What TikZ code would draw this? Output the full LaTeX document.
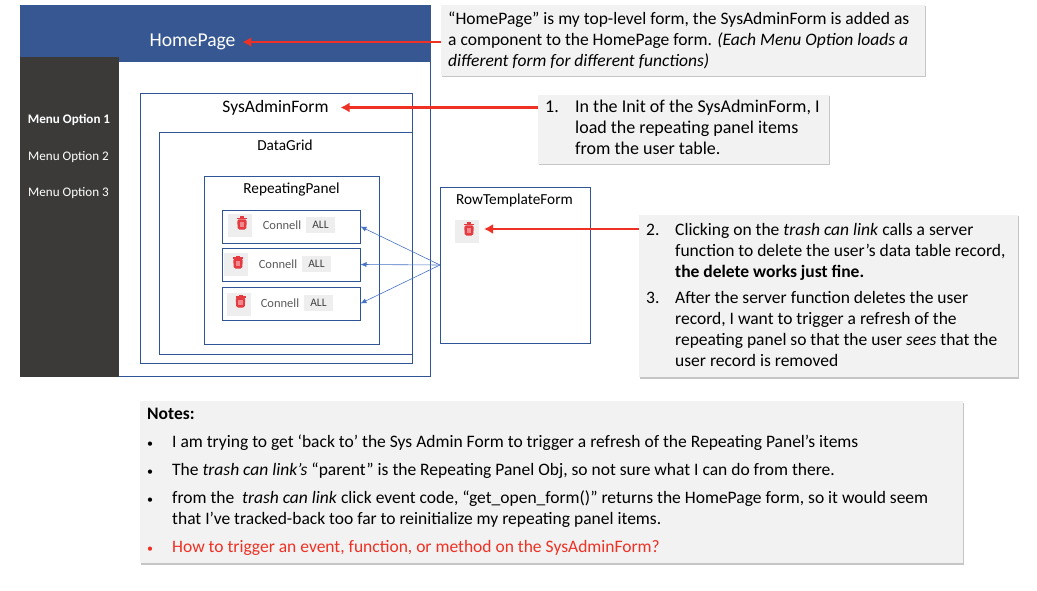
\documentclass[tikz,border=0pt]{standalone}
\usepackage{fontspec}
\setmainfont{Carlito}
\usepackage{array}
\usetikzlibrary{arrows.meta,positioning,shadows,calc}
\definecolor{headColor}{HTML}{365791}
\definecolor{sideColor}{HTML}{3B3A39}
\definecolor{frameColor}{HTML}{2F5597}
\definecolor{linkColor}{HTML}{4472C4}
\definecolor{redColor}{HTML}{EE3124}
\definecolor{noteColor}{HTML}{F2F2F2}
\definecolor{chipColor}{HTML}{EEEEEE}
\definecolor{trashColor}{HTML}{E53A40}
\newcommand{\smallbullet}{{\fontsize{12}{21}\selectfont •}}
\tikzset{
	frame/.style={draw=frameColor, line width=0.9pt, anchor=north west, inner sep=0, outer sep=0},
	note/.style={fill=noteColor, anchor=north west, inner sep=0, outer sep=0, drop shadow={shadow xshift=1.5pt, shadow yshift=-1.5pt, fill=black!45}},
	notetext/.style={anchor=west, inner sep=0, font=\fontsize{17.5}{21}\selectfont},
	redarrow/.style={draw=redColor, line width=2.2pt, -{Latex[length=9pt,width=10pt]}},
	linkarrow/.style={draw=linkColor, line width=0.6pt, -{Latex[length=6pt,width=5pt]}},
	chip/.style={fill=chipColor, anchor=north west, inner sep=0, outer sep=0, text=black!75, font=\fontsize{11.5}{13}\selectfont, minimum width=29pt, minimum height=16pt},
	iconbg/.style={fill=chipColor, anchor=north west, inner sep=0, outer sep=0, minimum width=24pt, minimum height=23pt},
	uname/.style={text=black!65, inner sep=0, font=\fontsize{12.5}{14}\selectfont},
	menu/.style={text=white, inner sep=0, font=\fontsize{13.1}{15}\selectfont},
	title/.style={inner sep=0, font=\fontsize{15.3}{18}\selectfont},
	trash/.pic={
		\fill[trashColor] (-5,-6) rectangle (5,-4.5);
		\fill[trashColor] (-2,-7.5) rectangle (2,-6);
		\fill[trashColor, rounded corners=1.5pt] (-4.8,-4.5) -- (4.8,-4.5) -- (4.2,5.5) -- (-4.2,5.5) -- cycle;
		\fill[trashColor!60!white] (-2.4,-2) rectangle (2.4,2.8);
	}
}
\begin{document}
\begin{tikzpicture}[x=1pt,y=-1pt]
	\useasboundingbox (0,0) rectangle (1037,591);
	% forms
	\node[frame, minimum width=410.5pt, minimum height=371.5pt] (home) at (20,5) {};
	\node[fill=headColor, anchor=north west, inner sep=0, outer sep=0, minimum width=410.5pt, minimum height=57pt] (head) at (20,5) {};
	\node[fill=sideColor, anchor=north west, inner sep=0, outer sep=0, minimum width=99pt, minimum height=320pt] (side) at (20,57) {};
	\node[text=white, inner sep=0, outer sep=7pt, font=\fontsize{19.6}{23}\selectfont] (homelabel) at (192.5,42) {HomePage};
	\node[menu] (menu1) at (69,120) {\textbf{Menu Option 1}};
	\node[menu] (menu2) at (68.5,157.5) {Menu Option 2};
	\node[menu] (menu3) at (68.5,193.5) {Menu Option 3};

	\node[frame, minimum width=272.5pt, minimum height=270pt] (sysform) at (140,93) {};
	\node[inner sep=0, outer sep=12pt, font=\fontsize{17.5}{21}\selectfont] (syslabel) at (275.5,107.5) {SysAdminForm};
	\node[frame, minimum width=253.5pt, minimum height=222pt] (grid) at (159,132) {};
	\node[title] (gridlabel) at (285,145.5) {DataGrid};
	\node[frame, minimum width=175.5pt, minimum height=168pt] (panel) at (204,176) {};
	\node[title] (panellabel) at (291.5,189.5) {RepeatingPanel};

	% repeated rows
	\node[frame, minimum width=138.5pt, minimum height=33pt] (row1) at (222,210) {};
	\node[iconbg] (icon1) at (228,214) {};
	\pic at (242,224) {trash};
	\node[uname] (user1) at (282,225) {Connell};
	\node[chip] (all1) at (306,217) {ALL};
	\node[frame, minimum width=138.5pt, minimum height=33pt] (row2) at (222,248) {};
	\node[iconbg] (icon2) at (224,253) {};
	\pic at (238,263) {trash};
	\node[uname] (user2) at (278,264.5) {Connell};
	\node[chip] (all2) at (302,256) {ALL};
	\node[frame, minimum width=138.5pt, minimum height=33pt] (row3) at (222,287) {};
	\node[iconbg] (icon3) at (227,293) {};
	\pic at (240.5,302) {trash};
	\node[uname] (user3) at (280,303) {Connell};
	\node[chip] (all3) at (304,295) {ALL};

	\node[frame, minimum width=150pt, minimum height=156pt] (rowform) at (440,187) {};
	\node[title] (rowlabel) at (514.5,200.5) {RowTemplateForm};
	\node[iconbg] (icon0) at (455,220) {};
	\pic at (469,230) {trash};

	% notes
	\node[note, minimum width=484pt, minimum height=71pt] (notehome) at (440.5,5) {};
	\node[notetext, align=left] (texthome) at (448,40.5) {%
		“HomePage” is my top-level form, the SysAdminForm is added as\\
		a component to the HomePage form. \textit{(Each Menu Option loads a}\\
		\textit{different form for different functions)}};
	\node[note, minimum width=291pt, minimum height=69pt] (noteinit) at (537.5,95) {};
	\node[notetext, font=\fontsize{18}{21}\selectfont] (textinit) at (545,129.5) {%
		\begin{tabular}{@{}p{30pt}@{}l@{}}
			1. & In the Init of the SysAdminForm, I\\
			& load the repeating panel items\\
			& from the user table.
		\end{tabular}};
	\node[note, minimum width=379pt, minimum height=162pt] (notetrash) at (638.5,215) {};
	\node[notetext] (texttrash) at (646,296.5) {%
		\begin{tabular}{@{}p{29pt}@{}l@{}}
			2. & Clicking on the \textit{trash can link} calls a server\\
			& function to delete the user’s data table record,\\
			& \textbf{the delete works just fine.}\\[5pt]
			3. & After the server function deletes the user\\
			& record, I want to trigger a refresh of the\\
			& repeating panel so that the user \textit{sees} that the\\
			& user record is removed
		\end{tabular}};
	\node[note, minimum width=823pt, minimum height=162pt] (notemain) at (139.5,401) {};
	\node[notetext] (textmain) at (147,481.5) {%
		\begin{tabular}{@{}p{25pt}@{}l@{}}
			\multicolumn{2}{@{}l}{\textbf{Notes:}}\\[7pt]
			\smallbullet & I am trying to get ‘back to’ the Sys Admin Form to trigger a refresh of the Repeating Panel’s items\\[7pt]
			\smallbullet & The \textit{trash can link’s} “parent” is the Repeating Panel Obj, so not sure what I can do from there.\\[7pt]
			\smallbullet & from the \ \textit{trash can link} click event code, “get\_open\_form()” returns the HomePage form, so it would seem\\
			& that I’ve tracked-back too far to reinitialize my repeating panel items.\\[7pt]
			\textcolor{redColor}{\smallbullet} & \textcolor{redColor}{How to trigger an event, function, or method on the SysAdminForm?}
		\end{tabular}};

	% arrows
	\draw[redarrow] (notehome.west |- homelabel.east) -- (homelabel.east);
	\draw[redarrow] (noteinit.west |- syslabel.east) -- (syslabel.east);
	\draw[redarrow, shorten >=5pt] (notetrash.west |- 0,229) -- (icon0.east |- 0,229);
	\draw[linkarrow] (rowform.west) -- (row1.east);
	\draw[linkarrow] (rowform.west) -- (row2.east);
	\draw[linkarrow] (rowform.west) -- (row3.east);
\end{tikzpicture}
\end{document}
